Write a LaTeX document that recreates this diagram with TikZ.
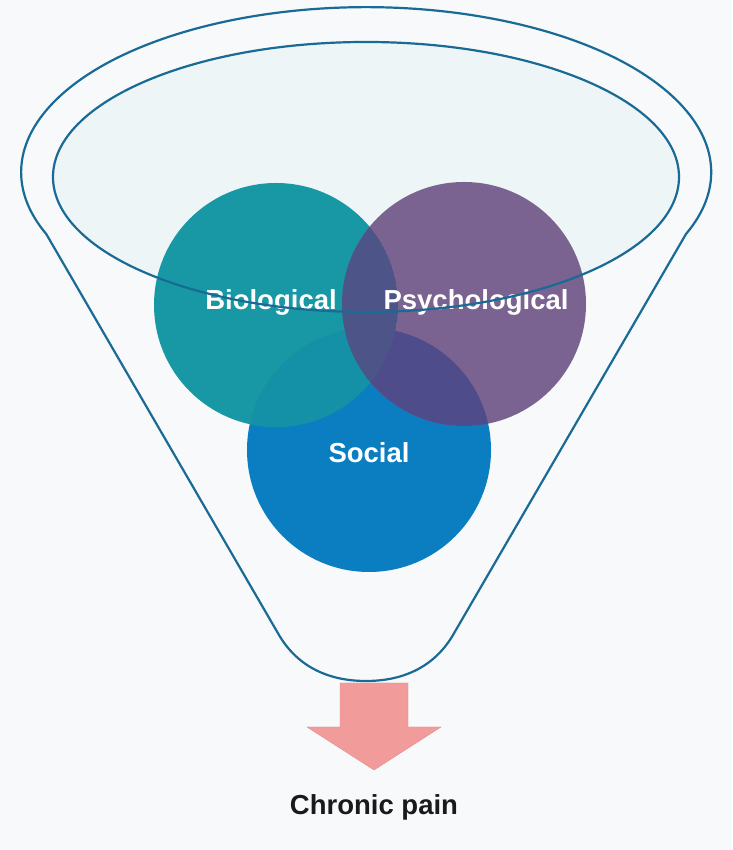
\documentclass[tikz,border=0pt]{standalone}
\usepackage{fontspec}
\setmainfont{Liberation Sans}
\definecolor{bgcol}{HTML}{F7F9FB}
\definecolor{glass}{HTML}{EEF5F7}
\definecolor{rimcol}{HTML}{1A6A96}
\definecolor{bioC}{HTML}{1898A4}
\definecolor{psyC}{HTML}{7A6390}
\definecolor{socC}{HTML}{0B7DC1}
\definecolor{bioPsy}{HTML}{4D5588}
\definecolor{bioSoc}{HTML}{1491A6}
\definecolor{psySoc}{HTML}{4E4C8B}
\definecolor{arrowC}{HTML}{F29B9B}
\definecolor{arrowB}{HTML}{E38C8C}
\definecolor{txtC}{HTML}{1A1A1A}

\begin{document}
\begin{tikzpicture}[x=1pt,y=1pt,
        disc/.style={circle, minimum size=244pt, inner sep=0pt},
        lbl/.style={anchor=base, text=white, font=\fontsize{27.5}{33}\selectfont\bfseries},
        rim/.style={draw=rimcol, line width=2.2pt}]
        \fill [bgcol] (0,0) rectangle (732,850);
        \useasboundingbox (0,0) rectangle (732,850);
        %
        \fill [glass] (366,673) ellipse [x radius=313pt, y radius=135pt];
        \draw [rim] (686,616) arc [start angle=-22, end angle=202, x radius=345pt, y radius=165pt]
                -- (279,215) .. controls (296,186) and (325,169) .. (366,169)
                .. controls (407,169) and (436,186) .. (453,215) -- cycle;
        %
        \node [disc, fill=socC] (social) at (369,400) {};
        \node [disc, fill=bioC] (bio) at (276,545) {};
        \node [disc, fill=psyC] (psy) at (464,546) {};
        %
        \begin{scope}
          \clip (bio.center) circle (122pt);
          \fill [bioSoc] (social.center) circle (122pt);
        \end{scope}
        \begin{scope}
          \clip (psy.center) circle (122pt);
          \fill [psySoc] (social.center) circle (122pt);
          \clip (bio.center) circle (122pt);
          \fill [bioPsy] (bio.center) circle (122pt);
        \end{scope}
        %
        \node [lbl] (biolbl) at (271,540) {Biological};
        \node [lbl] (psylbl) at (476,540) {Psychological};
        \node [lbl] (soclbl) at (369,387) {Social};
        %
        \draw [rim] (366,673) ellipse [x radius=313pt, y radius=135pt];
        %
        \draw [draw=arrowB, fill=arrowC] (340,167) -- (408,167) -- (408,123) -- (441,123)
                -- (374,80) -- (307,123) -- (340,123) -- cycle;
        \node [anchor=base, text=txtC, font=\fontsize{27.5}{33}\selectfont\bfseries] (pain) at (374,35) {Chronic pain};
\end{tikzpicture}
\end{document}
